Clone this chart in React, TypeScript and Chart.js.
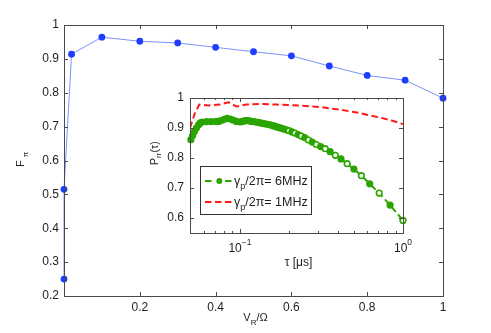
import React, { useEffect, useRef } from 'react';
import { Chart, registerables } from 'chart.js';

Chart.register(...registerables);

// ---------- data ----------
const MAIN_X = [0, 0, 0.02, 0.1, 0.2, 0.3, 0.4, 0.5, 0.6, 0.7, 0.8, 0.9, 1.0];
const MAIN_Y = [0.25, 0.515, 0.914, 0.964, 0.952, 0.947, 0.934, 0.921, 0.909, 0.879, 0.851, 0.837, 0.784];
const MAIN_X_TICKS = [0.2, 0.4, 0.6, 0.8, 1];
const MAIN_X_LABELS = ['0.2', '0.4', '0.6', '0.8', '1'];
const MAIN_Y_TICKS = [0.2, 0.3, 0.4, 0.5, 0.6, 0.7, 0.8, 0.9, 1];
const MAIN_Y_LABELS = ['0.2', '0.3', '0.4', '0.5', '0.6', '0.7', '0.8', '0.9', '1'];

const TAU_6MHZ = [
  0.05, 0.0513, 0.0526, 0.0541, 0.0556, 0.0571, 0.0588, 0.0625, 0.0667, 0.0714, 0.0741, 0.0769,
  0.08, 0.0833, 0.087, 0.0909, 0.0952, 0.1, 0.1026, 0.1053, 0.1081, 0.1111, 0.1143, 0.1176,
  0.1212, 0.125, 0.129, 0.1333, 0.1379, 0.1429, 0.1471, 0.1515, 0.1563, 0.1613, 0.1667, 0.1724,
  0.1786, 0.1852, 0.1923, 0.2, 0.2083, 0.2174, 0.2273, 0.2381, 0.25, 0.2632, 0.2778,
  0.2941, 0.3125, 0.3333, 0.3571, 0.3846, 0.4167, 0.4545, 0.5, 0.5556, 0.625, 0.7143, 0.8333, 1.0,
];
const P_6MHZ = [
  0.861, 0.875, 0.888, 0.9, 0.91, 0.917, 0.92, 0.921, 0.921, 0.922, 0.922, 0.925,
  0.929, 0.932, 0.93, 0.926, 0.922, 0.92, 0.9215, 0.923, 0.9245, 0.925, 0.9235, 0.922,
  0.921, 0.92, 0.9185, 0.917, 0.9155, 0.914, 0.9125, 0.911, 0.909, 0.907, 0.9045, 0.902,
  0.8995, 0.897, 0.894, 0.891, 0.887, 0.883, 0.878, 0.873, 0.868, 0.86, 0.853,
  0.845, 0.838, 0.831, 0.821, 0.809, 0.797, 0.781, 0.763, 0.741, 0.714, 0.683, 0.643, 0.592,
];
const TAU_1MHZ = [0.0494, 0.053, 0.0563, 0.064, 0.075, 0.085, 0.095, 0.11, 0.133, 0.168, 0.233, 0.31, 0.41, 0.545, 0.6, 0.72, 0.85, 1.0];
const P_1MHZ = [0.9, 0.95, 0.978, 0.975, 0.978, 0.986, 0.972, 0.978, 0.98, 0.978, 0.975, 0.97, 0.961, 0.95, 0.944, 0.935, 0.925, 0.913];

const INSET_Y_TICKS = [0.6, 0.7, 0.8, 0.9, 1];
const INSET_Y_LABELS = ['0.6', '0.7', '0.8', '0.9', '1'];
const INSET_X_MAJOR = [0.1, 1];
const INSET_X_LABELS = [['10', '\u22121'], ['10', '0']];
const INSET_X_MINOR = [0.06, 0.07, 0.08, 0.09, 0.2, 0.3, 0.4, 0.5, 0.6, 0.7, 0.8, 0.9];
const LEGEND_LABELS = [['\u03B3', 'p', '/2\u03C0= 6MHz'], ['\u03B3', 'p', '/2\u03C0= 1MHz']];

// ---------- styles ----------
const FONT = '"Liberation Sans", Arial, Helvetica, sans-serif';
const AXIS_COLOR = '#4a4a4a';
const TEXT_COLOR = '#1e1e1e';
const BLUE = '#1f3dff';
const BLUE_LINE = '#7b93ff';
const GREEN = '#2aa500';
const RED = '#ff1a1a';
const W = 491;
const H = 333;

type Part = { t: string; size: number; dy?: number; gap?: number };

function drawParts(ctx: CanvasRenderingContext2D, parts: Part[], x: number, y: number) {
  let cx = x;
  for (const p of parts) {
    ctx.font = `${p.size}px ${FONT}`;
    ctx.fillText(p.t, cx, y + (p.dy || 0));
    cx += ctx.measureText(p.t).width + (p.gap || 0);
  }
  return cx;
}
function partsWidth(ctx: CanvasRenderingContext2D, parts: Part[]) {
  let w = 0;
  for (const p of parts) {
    ctx.font = `${p.size}px ${FONT}`;
    w += ctx.measureText(p.t).width + (p.gap || 0);
  }
  return w;
}

const mainDecor = {
  id: 'mainDecor',
  afterDraw(chart: any) {
    const { ctx, chartArea: a, scales } = chart;
    const xs = scales.x;
    const ys = scales.y;
    ctx.save();
    ctx.strokeStyle = AXIS_COLOR;
    ctx.lineWidth = 1;
    ctx.strokeRect(a.left + 0.5, a.top + 0.5, a.right - a.left, a.bottom - a.top);
    ctx.beginPath();
    for (const v of MAIN_X_TICKS) {
      const px = Math.round(xs.getPixelForValue(v)) + 0.5;
      ctx.moveTo(px, a.bottom);
      ctx.lineTo(px, a.bottom - 4);
      ctx.moveTo(px, a.top);
      ctx.lineTo(px, a.top + 4);
    }
    for (const v of MAIN_Y_TICKS) {
      const py = Math.round(ys.getPixelForValue(v)) + 0.5;
      ctx.moveTo(a.left, py);
      ctx.lineTo(a.left + 4, py);
      ctx.moveTo(a.right, py);
      ctx.lineTo(a.right - 4, py);
    }
    ctx.stroke();

    ctx.fillStyle = TEXT_COLOR;
    ctx.textBaseline = 'alphabetic';
    ctx.textAlign = 'left';
    // x title V_R/Ω
    const xt: Part[] = [
      { t: 'V', size: 11 },
      { t: 'R', size: 8, dy: 4 },
      { t: '/\u03A9', size: 11 },
    ];
    const cxm = (a.left + a.right) / 2;
    drawParts(ctx, xt, cxm - partsWidth(ctx, xt) / 2 + 2, 321);
    // y title F_π
    ctx.save();
    ctx.translate(24, 167);
    ctx.rotate(-Math.PI / 2);
    drawParts(ctx, [{ t: 'F', size: 11, gap: 3 }, { t: '\u03C0', size: 8, dy: 4 }], 0, 0);
    ctx.restore();
    ctx.restore();
  },
};

const insetDecor = {
  id: 'insetDecor',
  beforeDraw(chart: any) {
    const { ctx, chartArea: a } = chart;
    ctx.save();
    ctx.fillStyle = '#ffffff';
    ctx.fillRect(a.left, a.top, a.right - a.left, a.bottom - a.top);
    ctx.restore();
  },
  afterDraw(chart: any) {
    const { ctx, chartArea: a, scales } = chart;
    const xs = scales.x;
    const ys = scales.y;
    ctx.save();
    ctx.strokeStyle = AXIS_COLOR;
    ctx.lineWidth = 1;
    ctx.strokeRect(a.left + 0.5, a.top + 0.5, a.right - a.left, a.bottom - a.top);
    ctx.beginPath();
    for (const v of INSET_X_MAJOR) {
      const px = Math.round(xs.getPixelForValue(v)) + 0.5;
      ctx.moveTo(px, a.bottom);
      ctx.lineTo(px, a.bottom - 4);
      ctx.moveTo(px, a.top);
      ctx.lineTo(px, a.top + 4);
    }
    for (const v of INSET_X_MINOR) {
      const px = Math.round(xs.getPixelForValue(v)) + 0.5;
      ctx.moveTo(px, a.bottom);
      ctx.lineTo(px, a.bottom - 2);
      ctx.moveTo(px, a.top);
      ctx.lineTo(px, a.top + 2);
    }
    for (const v of INSET_Y_TICKS) {
      const py = Math.round(ys.getPixelForValue(v)) + 0.5;
      ctx.moveTo(a.left, py);
      ctx.lineTo(a.left + 4, py);
      ctx.moveTo(a.right, py);
      ctx.lineTo(a.right - 4, py);
    }
    ctx.stroke();

    ctx.fillStyle = TEXT_COLOR;
    ctx.textBaseline = 'alphabetic';
    ctx.textAlign = 'left';
    // x tick labels 10^-1, 10^0
    INSET_X_MAJOR.forEach((v, i) => {
      const px = xs.getPixelForValue(v);
      const parts: Part[] = [
        { t: INSET_X_LABELS[i][0], size: 12 },
        { t: INSET_X_LABELS[i][1], size: 8.5, dy: -7 },
      ];
      drawParts(ctx, parts, px - partsWidth(ctx, parts) / 2, 252);
    });
    // x title
    const tt: Part[] = [{ t: '\u03C4 [\u03BCs]', size: 12 }];
    drawParts(ctx, tt, (a.left + a.right) / 2 - partsWidth(ctx, tt) / 2 + 2, 266);
    // y title P_rr(τ)
    ctx.save();
    ctx.translate(157.5, 165);
    ctx.rotate(-Math.PI / 2);
    drawParts(ctx, [
      { t: 'P', size: 10.5 },
      { t: 'rr', size: 7.5, dy: 3.5, gap: 0.5 },
      { t: '(\u03C4)', size: 10.5 },
    ], 0, 0);
    ctx.restore();

    // legend
    const lx = 200.5, ly = 166.5, lw = 111, lh = 48;
    ctx.fillStyle = '#ffffff';
    ctx.fillRect(lx, ly, lw, lh);
    ctx.strokeStyle = '#333333';
    ctx.strokeRect(lx, ly, lw, lh);
    const rows = [
      { y: 181, color: GREEN, dot: true },
      { y: 202, color: RED, dot: false },
    ];
    rows.forEach((r, i) => {
      ctx.save();
      ctx.strokeStyle = r.color;
      ctx.lineWidth = 2;
      ctx.setLineDash([6.5, 3.5]);
      ctx.beginPath();
      ctx.moveTo(205, r.y);
      ctx.lineTo(232, r.y);
      ctx.stroke();
      ctx.restore();
      if (r.dot) {
        ctx.fillStyle = '#ffffff';
        ctx.fillRect(214, r.y - 3, 10, 6);
        ctx.fillStyle = r.color;
        ctx.beginPath();
        ctx.arc(219.3, r.y, 3, 0, Math.PI * 2);
        ctx.fill();
      }
      ctx.fillStyle = TEXT_COLOR;
      const L = LEGEND_LABELS[i];
      drawParts(ctx, [
        { t: L[0], size: 12.5 },
        { t: L[1], size: 9, dy: 4 },
        { t: L[2], size: 12.5 },
      ], 234, r.y + 4);
    });
    ctx.restore();
  },
};

export default function App() {
  const mainRef = useRef<HTMLCanvasElement>(null);
  const insetRef = useRef<HTMLCanvasElement>(null);

  useEffect(() => {
    const mainChart = new Chart(mainRef.current as HTMLCanvasElement, {
      type: 'scatter',
      data: {
        datasets: [
          {
            data: MAIN_X.map((x, i) => ({ x, y: MAIN_Y[i] })),
            showLine: true,
            borderColor: BLUE_LINE,
            borderWidth: 1,
            pointRadius: 3.4,
            pointBackgroundColor: BLUE,
            pointBorderColor: BLUE,
            pointBorderWidth: 0,
            clip: false as any,
          },
        ],
      },
      options: {
        responsive: false,
        animation: false,
        devicePixelRatio: 1,
        layout: { padding: { top: 25, right: 48, left: 0, bottom: 0 } },
        plugins: { legend: { display: false }, tooltip: { enabled: false } },
        scales: {
          x: {
            type: 'linear',
            min: 0,
            max: 1,
            grid: { display: false, drawTicks: false },
            border: { display: false },
            afterBuildTicks: (s: any) => {
              s.ticks = MAIN_X_TICKS.map((v) => ({ value: v }));
            },
            afterFit: (s: any) => {
              s.height = 37;
            },
            ticks: {
              autoSkip: false,
              maxRotation: 0,
              padding: 4,
              color: TEXT_COLOR,
              font: { family: FONT, size: 12 },
              callback: (_v: any, i: number) => MAIN_X_LABELS[i],
            },
          },
          y: {
            type: 'linear',
            min: 0.2,
            max: 1,
            grid: { display: false, drawTicks: false },
            border: { display: false },
            afterBuildTicks: (s: any) => {
              s.ticks = MAIN_Y_TICKS.map((v) => ({ value: v }));
            },
            afterFit: (s: any) => {
              s.width = 64;
            },
            ticks: {
              autoSkip: false,
              padding: 5,
              color: TEXT_COLOR,
              font: { family: FONT, size: 12 },
              callback: (_v: any, i: number) => MAIN_Y_LABELS[i],
            },
          },
        },
      },
      plugins: [mainDecor],
    } as any);

    const insetChart = new Chart(insetRef.current as HTMLCanvasElement, {
      type: 'scatter',
      data: {
        datasets: [
          {
            data: TAU_1MHZ.map((x, i) => ({ x, y: P_1MHZ[i] })),
            showLine: true,
            borderColor: RED,
            borderWidth: 2,
            borderDash: [6.5, 3.5],
            pointRadius: 0,
          },
          {
            data: TAU_6MHZ.map((x, i) => ({ x, y: P_6MHZ[i] })),
            showLine: true,
            borderColor: GREEN,
            borderWidth: 2,
            borderDash: [6.5, 3.5],
            pointRadius: 2.8,
            pointBorderWidth: 1.6,
            pointBorderColor: GREEN,
            pointBackgroundColor: (c: any) => {
              const raw = c.raw as { x: number } | undefined;
              if (raw && raw.x < 0.19) return GREEN;
              return c.dataIndex % 2 ? '#ffffff' : GREEN;
            },
            clip: false as any,
          },
        ],
      },
      options: {
        responsive: false,
        animation: false,
        devicePixelRatio: 1,
        layout: { padding: { top: 98, right: 88, left: 0, bottom: 0 } },
        plugins: { legend: { display: false }, tooltip: { enabled: false } },
        scales: {
          x: {
            type: 'logarithmic',
            min: 0.0494,
            max: 1,
            grid: { display: false, drawTicks: false },
            border: { display: false },
            afterFit: (s: any) => {
              s.height = 100;
            },
            ticks: { display: false },
          },
          y: {
            type: 'linear',
            min: 0.55,
            max: 1,
            grid: { display: false, drawTicks: false },
            border: { display: false },
            afterBuildTicks: (s: any) => {
              s.ticks = INSET_Y_TICKS.map((v) => ({ value: v }));
            },
            afterFit: (s: any) => {
              s.width = 190;
            },
            ticks: {
              autoSkip: false,
              padding: 6,
              color: TEXT_COLOR,
              font: { family: FONT, size: 12 },
              callback: (_v: any, i: number) => INSET_Y_LABELS[i],
            },
          },
        },
      },
      plugins: [insetDecor],
    } as any);

    return () => {
      mainChart.destroy();
      insetChart.destroy();
    };
  }, []);

  return (
    <div style={{ position: 'fixed', left: 0, top: 0, width: W, height: H, background: '#ffffff' }}>
      <canvas ref={mainRef} width={W} height={H} style={{ position: 'absolute', left: 0, top: 0, width: W, height: H }} />
      <canvas ref={insetRef} width={W} height={H} style={{ position: 'absolute', left: 0, top: 0, width: W, height: H }} />
    </div>
  );
}
